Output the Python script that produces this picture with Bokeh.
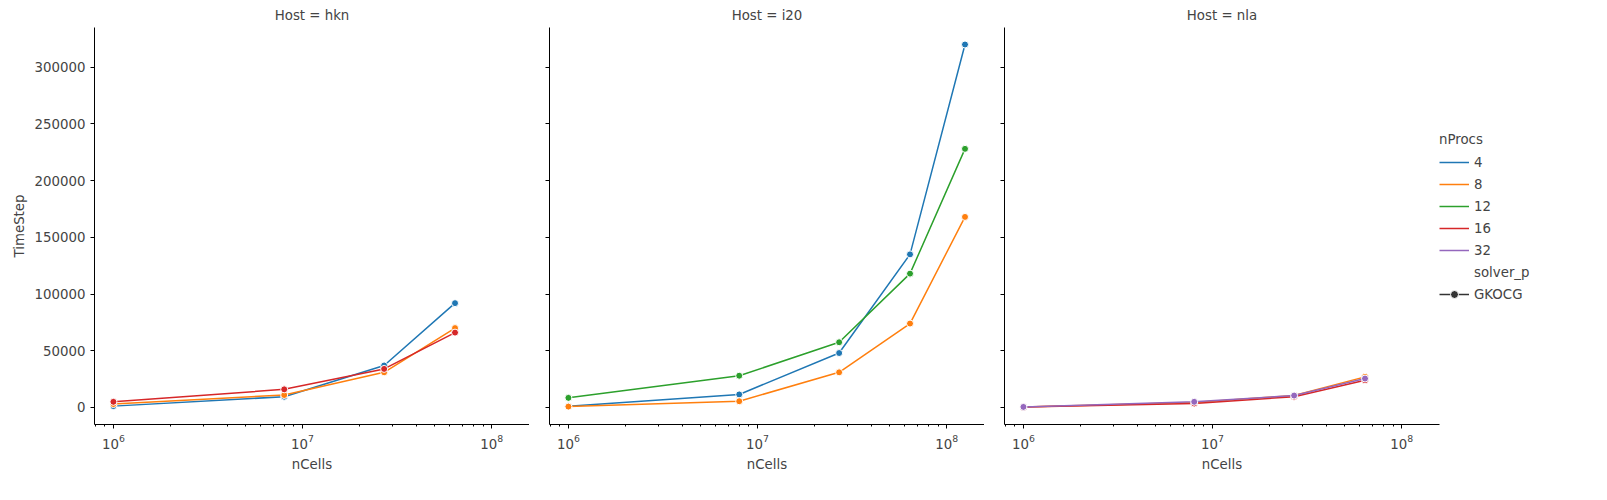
from bokeh.plotting import figure
from bokeh.layouts import row
from bokeh.models import Legend, LegendItem, NumeralTickFormatter, FixedTicker, Range1d
from bokeh.embed import file_html
from bokeh.resources import INLINE

# data
hosts = ["hkn", "i20", "nla"]
nprocs = [4, 8, 12, 16, 32]
colors = {4: "#1f77b4", 8: "#ff7f0e", 12: "#2ca02c", 16: "#d62728", 32: "#9467bd"}

cells4 = [1e6, 8e6, 2.7e7, 6.4e7]
cells5 = [1e6, 8e6, 2.7e7, 6.4e7, 1.25e8]

timesteps = {
    "hkn": {
        4: (cells4, [1200, 9500, 37000, 92000]),
        8: (cells4, [3000, 11000, 31000, 70000]),
        16: (cells4, [5000, 16000, 34000, 66000]),
    },
    "i20": {
        4: (cells5, [1000, 11500, 48000, 135000, 320000]),
        8: (cells5, [800, 5500, 31000, 74000, 168000]),
        12: (cells5, [8500, 28000, 57500, 118000, 228000]),
    },
    "nla": {
        8: (cells4, [500, 4500, 10500, 27000]),
        16: (cells4, [500, 3500, 9500, 24000]),
        32: (cells4, [500, 5000, 10500, 25500]),
    },
}

FONT = "DejaVu Sans"
figs = []
for i, host in enumerate(hosts):
    p = figure(x_axis_type="log", output_backend="svg", toolbar_location=None,
               frame_width=435, frame_height=397,
               x_range=Range1d(10**5.9, 10**8.2), y_range=Range1d(-15000, 335000),
               title="Host = " + host,
               min_border_left=94 if i == 0 else 20, min_border_right=0,
               min_border_top=6, min_border_bottom=10)
    p.title.align = "center"
    p.title.text_font = FONT
    p.title.text_font_size = "10pt"
    p.title.text_font_style = "normal"
    p.outline_line_color = None
    p.grid.visible = False
    p.xaxis.axis_label = "nCells"
    p.xaxis.ticker = FixedTicker(ticks=[1e6, 1e7, 1e8],
                                 minor_ticks=[k * 10**e for e in (5, 6, 7, 8) for k in range(2, 10)])
    p.yaxis.ticker = FixedTicker(ticks=[0, 50000, 100000, 150000, 200000, 250000, 300000])
    p.yaxis.formatter = NumeralTickFormatter(format="0")
    p.yaxis.minor_tick_line_color = None
    for ax in (p.xaxis, p.yaxis):
        ax.axis_label_text_font = FONT
        ax.axis_label_text_font_size = "10pt"
        ax.axis_label_text_font_style = "normal"
        ax.major_label_text_font = FONT
        ax.major_label_text_font_size = "10pt"
        ax.major_tick_out = 4
        ax.major_tick_in = 0
        ax.minor_tick_out = 2
        ax.minor_tick_in = 0
    if i == 0:
        p.yaxis.axis_label = "TimeStep"
    else:
        p.yaxis.major_label_text_color = None
    for n in nprocs:
        if n not in timesteps[host]:
            continue
        xs, ys = timesteps[host][n]
        p.line(xs, ys, line_color=colors[n], line_width=1.5)
        p.scatter(xs, ys, size=7, fill_color=colors[n], line_color="white", line_width=1)
    figs.append(p)

last = figs[-1]
items = [LegendItem(label=str(n), renderers=[last.line([1e6], [0], line_color=colors[n],
                                                        line_width=1.5, visible=False)])
         for n in nprocs]
items.append(LegendItem(label="solver_p", renderers=[last.line([1e6], [0], line_alpha=0, visible=False)]))
items.append(LegendItem(label="GKOCG", renderers=[last.line([1e6], [0], line_color="#333333",
                                                             line_width=1.5, visible=False),
                                                   last.scatter([1e6], [0], size=7, fill_color="#333333",
                                                                line_color="white", visible=False)]))
legend = Legend(items=items, title="nProcs", location=(0, 120), border_line_color=None,
                label_text_font=FONT, label_text_font_size="10pt", title_text_font=FONT,
                title_text_font_size="10pt", title_text_font_style="normal",
                glyph_width=30, spacing=2, label_height=16, padding=6, margin=0)
last.add_layout(legend, "right")

layout = row(*figs, spacing=0)
open("out.html", "w").write(file_html(layout, INLINE))
